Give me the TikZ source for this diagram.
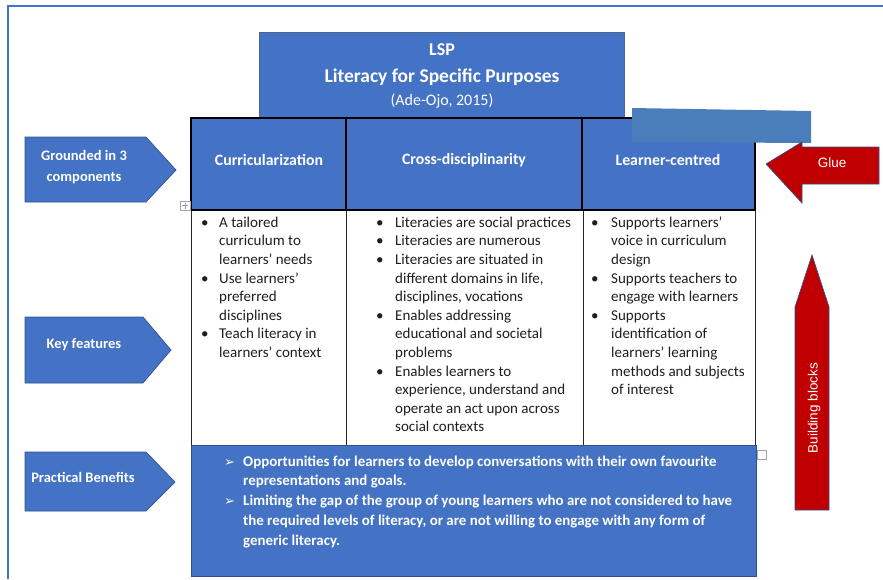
\documentclass[tikz,border=0pt]{standalone}
\usepackage{fontspec}
\setmainfont{Carlito}
\newfontfamily\arialf{Liberation Sans}
\newfontfamily\djv{DejaVu Sans}
\usepackage{array}
\definecolor{wblue}{HTML}{4472C4}
\definecolor{wedge}{HTML}{2F528F}
\definecolor{tealbox}{HTML}{4A7EBB}
\definecolor{wred}{HTML}{C00000}
\definecolor{bodytxt}{HTML}{1E1E1E}
\newcommand\bul{\textbullet}
\newcommand\arr{{\djv\fontsize{13}{13}\selectfont ➢}}
\begin{document}
\begin{tikzpicture}[x=1pt,y=-1pt,
  penta/.style={fill=wblue,draw=wedge,line width=0.7pt},
  pentatext/.style={white,font=\fontsize{14.5}{21}\selectfont\bfseries,align=center},
  headtext/.style={white,font=\fontsize{15.8}{18}\selectfont\bfseries},
  coltext/.style={anchor=north west,inner sep=0pt,text=bodytxt,font=\fontsize{15}{18.6}\selectfont},
  redarrow/.style={fill=wred,draw=wedge,line width=0.7pt},
  arrowtext/.style={white,font=\arialf\fontsize{13.5}{15}\selectfont}
]
\useasboundingbox (0,0) rectangle (883,579);
% frame
\draw[wblue,line width=2.2pt] (8,579) -- (8,6) -- (883,6);

% LSP box
\draw[fill=wblue,draw=wedge!60!gray,line width=0.6pt] (259,32) rectangle (624,118);
\node[white,font=\fontsize{18}{20}\selectfont\bfseries] (lsp) at (442,50) {LSP};
\node[white,font=\fontsize{19.5}{22}\selectfont\bfseries] (lsptitle) at (442,77) {Literacy for Specific Purposes};
\node[white,font=\fontsize{16}{18}\selectfont] (lspref) at (442,101) {(Ade-Ojo, 2015)};

% body row
\draw[black!85,line width=0.8pt] (191,210) -- (191,445) (346,210) -- (346,445) (583,210) -- (583,445) (755,210) -- (755,445);

% header row
\fill[wblue] (191,118) rectangle (755,210);
\draw[black,line width=1.4pt] (191,118) rectangle (755,210) (346,118) -- (346,210) (582,118) -- (582,210);
\node[headtext] (h1) at (269,160) {Curricularization};
\node[headtext] (h2) at (464,160) {Cross-disciplinarity};
\node[headtext] (h3) at (668,160) {Learner-centred};

% teal overlay
\fill[tealbox] (632,108) -- (811,111) -- (811,143) -- (632,142) -- cycle;

% column texts
\node[coltext] (c1) at (201,214) {\begin{tabular}{@{}p{18pt}@{}l@{}}
\bul & A tailored\\
 & curriculum to\\
 & learners’ needs\\
\bul & Use learners’\\
 & preferred\\
 & disciplines\\
\bul & Teach literacy in\\
 & learners’ context
\end{tabular}};
\node[coltext] (c2) at (376,214) {\begin{tabular}{@{}p{19pt}@{}l@{}}
\bul & Literacies are social practices\\
\bul & Literacies are numerous\\
\bul & Literacies are situated in\\
 & different domains in life,\\
 & disciplines, vocations\\
\bul & Enables addressing\\
 & educational and societal\\
 & problems\\
\bul & Enables learners to\\
 & experience, understand and\\
 & operate an act upon across\\
 & social contexts
\end{tabular}};
\node[coltext] (c3) at (591,214) {\begin{tabular}{@{}p{20pt}@{}l@{}}
\bul & Supports learners’\\
 & voice in curriculum\\
 & design\\
\bul & Supports teachers to\\
 & engage with learners\\
\bul & Supports\\
 & identification of\\
 & learners’ learning\\
 & methods and subjects\\
 & of interest
\end{tabular}};

% bottom box
\draw[fill=wblue,draw=wedge,line width=0.8pt] (191,445) rectangle (756,576);
\node[anchor=north west,inner sep=0pt,text=white,font=\fontsize{14.9}{19.8}\selectfont\bfseries] (benefits) at (224,452) {\begin{tabular}{@{}p{19pt}@{}l@{}}
\arr & Opportunities for learners to develop conversations with their own favourite\\
 & representations and goals.\\
\arr & Limiting the gap of the group of young learners who are not considered to have\\
 & the required levels of literacy, or are not willing to engage with any form of\\
 & generic literacy.
\end{tabular}};

% left pentagons
\draw[penta] (25,137) -- (146,137) -- (176,170) -- (146,202) -- (25,202) -- cycle;
\node[pentatext] (ground) at (84,167) {Grounded in 3\\components};
\draw[penta] (25,317) -- (143,317) -- (171,350) -- (143,383) -- (25,383) -- cycle;
\node[pentatext] (keyf) at (84,345) {Key features};
\draw[penta] (25,452) -- (146,452) -- (175,482) -- (146,511) -- (25,511) -- cycle;
\node[pentatext] (pract) at (83,477) {Practical Benefits};

% glue arrow
\draw[redarrow] (766,164) -- (802,142) -- (802,147) -- (879,147) -- (879,184) -- (802,184) -- (802,203) -- cycle;
\node[arrowtext] (glue) at (832,163) {Glue};

% building blocks arrow
\draw[redarrow] (812,255) -- (829,307) -- (829,510) -- (795,510) -- (795,307) -- cycle;
\node[arrowtext,rotate=90] (bblocks) at (814,408) {Building blocks};

% small markers
\draw[gray!70,line width=0.5pt,fill=white] (757,450) rectangle (766,459);
\draw[gray!70,line width=0.5pt,fill=white] (180,201) rectangle (190,210);
\draw[gray!80,line width=0.5pt] (182,205.5) -- (188,205.5) (185,202.5) -- (185,208.5);
\end{tikzpicture}
\end{document}
